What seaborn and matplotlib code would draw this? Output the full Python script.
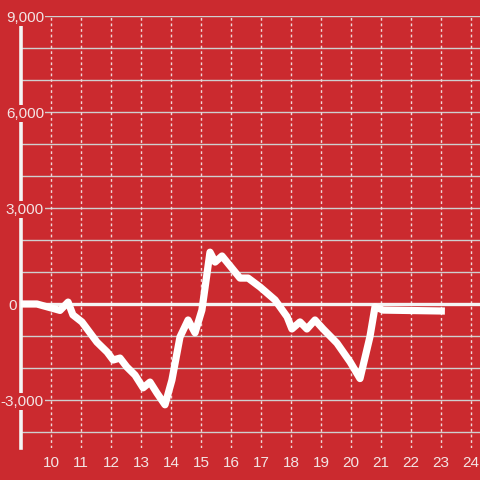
import matplotlib
matplotlib.use("Agg")
import matplotlib.pyplot as plt
import matplotlib.ticker as mticker
from matplotlib.transforms import ScaledTranslation
import seaborn as sns
import pandas as pd

hours = [9.0, 9.53, 10.3, 10.57, 10.73, 11.03, 11.53, 11.87, 12.07, 12.3, 12.53, 12.8,
         13.07, 13.3, 13.53, 13.8, 14.03, 14.3, 14.57, 14.8, 15.03, 15.3, 15.47, 15.7,
         16.3, 16.57, 16.97, 17.47, 17.87, 18.03, 18.3, 18.53, 18.8, 19.07, 19.53, 19.97,
         20.3, 20.63, 20.8, 21.07, 23.13]
values = [0, 0, -200, 60, -340, -560, -1190, -1500, -1750, -1690, -1970, -2220,
          -2620, -2440, -2780, -3150, -2380, -1030, -500, -900, -190, 1620, 1310, 1500,
          810, 810, 530, 125, -400, -780, -560, -780, -500, -780, -1220, -1810,
          -2330, -1030, -90, -190, -220]

x_ticks = list(range(10, 25))
y_ticks = [-3000, 0, 3000, 6000, 9000]
y_grid = list(range(-4000, 9001, 1000))

BG = "#cb2a2f"
TXT = "#f3e4e4"

sns.set_style("white")
plt.rcParams["font.family"] = ["Liberation Sans", "DejaVu Sans"]

df = pd.DataFrame({"hour": hours, "value": values})

fig = plt.figure(figsize=(4.8, 4.8), dpi=100, facecolor=BG)
ax = fig.add_axes([21 / 480, 32 / 480, 459 / 480, 432 / 480])
ax.set_facecolor(BG)

ax.set_xlim(9, 9 + 459 / 30)
ax.set_ylim(-4500, 9000)

for g in y_grid:
    if g == 0:
        continue
    ax.axhline(g, color="#cfcfcf", lw=1.0, zorder=1)
for t in x_ticks:
    ax.axvline(t, color="#f0d8d8", lw=1.0, ls=(0, (2, 2)), zorder=1)
ax.axhline(0, color="#f4f4f4", lw=2.4, zorder=1.5)

sns.lineplot(data=df, x="hour", y="value", ax=ax, color="white", lw=5.2,
             zorder=3, solid_joinstyle="round", solid_capstyle="butt")

for s in ["top", "right", "bottom"]:
    ax.spines[s].set_visible(False)
ax.spines["left"].set_color("#f4f4f4")
ax.spines["left"].set_linewidth(2.6)
ax.spines["left"].set_zorder(1.6)

ax.set_xticks(x_ticks)
ax.set_xticklabels([str(t) for t in x_ticks])
ax.set_yticks(y_ticks)
ax.yaxis.set_major_formatter(mticker.FuncFormatter(lambda v, p: f"{int(v):,}"))
ax.tick_params(axis="x", length=0, pad=6, labelsize=11, labelcolor=TXT)
ax.tick_params(axis="y", length=0, pad=-16.5, labelsize=11, labelcolor=TXT)
ax.set_xlabel("")
ax.set_ylabel("")
ax.yaxis.set_zorder(2.0)

fig.canvas.draw()
for lab, v in zip(ax.get_yticklabels(), y_ticks):
    lab.set_bbox(dict(facecolor=BG, edgecolor="none", pad=1.0))
    if v == 0:
        lab.set_transform(lab.get_transform() + ScaledTranslation(-0.27, 0, fig.dpi_scale_trans))
        lab.set_bbox(None)

fig.savefig("out.png", dpi=100, facecolor=BG)
